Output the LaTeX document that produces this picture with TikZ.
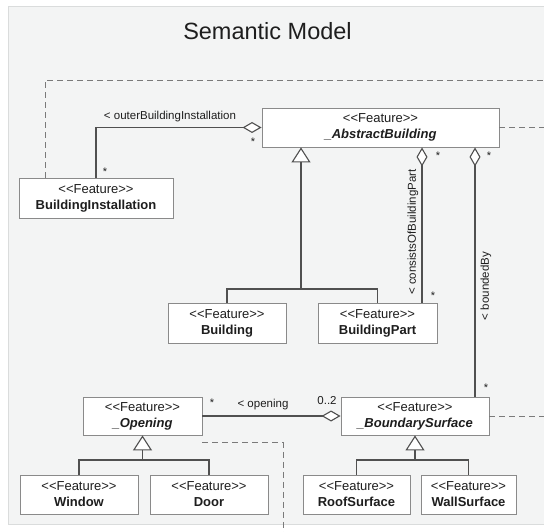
\documentclass[tikz,border=0pt]{standalone}
\usepackage{fontspec}
\setmainfont{Liberation Sans}
\usetikzlibrary{arrows.meta}
\definecolor{panelbg}{HTML}{F3F4F4}
\definecolor{panelln}{HTML}{DADCDC}
\definecolor{boxln}{HTML}{8A8A8A}
\definecolor{lineclr}{HTML}{505050}
\definecolor{dashclr}{HTML}{7A7A7A}
\definecolor{txt}{HTML}{1E1E1E}
\newcommand{\stereo}{<{}<Feature>{}>}
\begin{document}
\begin{tikzpicture}[x=1pt,y=-1pt,
  cls/.style={draw=boxln,line width=0.9pt,fill=white,inner sep=0pt,align=center,
    text=txt,font=\fontsize{13}{16}\selectfont},
  conn/.style={draw=lineclr,line width=1.1pt},
  agg/.style={conn,{Diamond[fill=white,length=19pt,width=11pt]}-},
  gen/.style={conn,{Triangle[fill=white,length=15pt,width=19pt]}-},
  dsh/.style={draw=dashclr,line width=0.9pt,dash pattern=on 6pt off 4pt},
  lbl/.style={text=txt,font=\fontsize{11.5}{13}\selectfont,inner sep=0pt},
  mult/.style={text=txt,font=\fontsize{11}{12}\selectfont,inner sep=0pt}]
\useasboundingbox (0,0) rectangle (544,532);
\fill[white] (0,0) rectangle (544,532);
\draw[panelln,fill=panelbg,line width=1pt] (560,7) -- (8,7) -- (8,524) -- (560,524);
\node[text=txt,font=\fontsize{23.5}{26}\selectfont] (title) at (267.5,31) {Semantic Model};

% classes
\node[cls,minimum width=237pt,minimum height=39pt] (AB) at (380.5,127.5) {\stereo\\\textbf{\textit{\_AbstractBuilding}}};
\node[cls,minimum width=154pt,minimum height=40pt] (BI) at (96,198) {\stereo\\\textbf{BuildingInstallation}};
\node[cls,minimum width=118pt,minimum height=40pt] (Bld) at (227,323) {\stereo\\\textbf{Building}};
\node[cls,minimum width=119pt,minimum height=40pt] (BP) at (377.5,323) {\stereo\\\textbf{BuildingPart}};
\node[cls,minimum width=119pt,minimum height=38pt] (Op) at (142.5,416) {\stereo\\\textbf{\textit{\_Opening}}};
\node[cls,minimum width=148pt,minimum height=38pt] (BS) at (415,416) {\stereo\\\textbf{\textit{\_BoundarySurface}}};
\node[cls,minimum width=118pt,minimum height=39pt] (Win) at (79,494.5) {\stereo\\\textbf{Window}};
\node[cls,minimum width=118pt,minimum height=39pt] (Door) at (209,494.5) {\stereo\\\textbf{Door}};
\node[cls,minimum width=107pt,minimum height=39pt] (Roof) at (356.5,494.5) {\stereo\\\textbf{RoofSurface}};
\node[cls,minimum width=95pt,minimum height=39pt] (Wall) at (468.5,494.5) {\stereo\\\textbf{WallSurface}};

% helper coordinates
\coordinate (g1) at (301,289);
\coordinate (cx) at (422,0);
\coordinate (bx) at (475,0);
\coordinate (g2) at (0,460);
\coordinate (dtop) at (45,80);
\coordinate (rEdge) at (544,0);
\coordinate (dcorner) at (283,0);
\coordinate (bEdge) at (0,532);

% dashed context lines
\draw[dsh] (BI.north -| dtop) -- (dtop) -- (dtop -| rEdge);
\draw[dsh] (AB.east) -- (AB.east -| rEdge);
\draw[dsh] (BS.east) -- (BS.east -| rEdge);
\draw[dsh] ([yshift=-7pt]Op.south east) -- ([yshift=-7pt]Op.south east -| dcorner) -- (dcorner |- bEdge);

% outerBuildingInstallation
\draw[agg] (AB.west) -| (BI.north);
\node[lbl] (l1) at (170,117) {< outerBuildingInstallation};
\node[mult] (m1) at (253,142) {*};
\node[mult] (m2) at (105,172) {*};

% generalization AbstractBuilding
\draw[gen] (AB.south -| g1) -- (g1);
\draw[conn] (Bld.north) -- (Bld.north |- g1) -- (BP.north |- g1) -- (BP.north);

% consistsOfBuildingPart
\draw[agg] (AB.south -| cx) -- (BP.north -| cx);
\node[lbl,rotate=90] (l2) at (413,232) {< consistsOfBuildingPart};
\node[mult] (m3) at (438,156) {*};
\node[mult] (m4) at (433,296) {*};

% boundedBy
\draw[agg] (AB.south -| bx) -- (BS.north -| bx);
\node[lbl,rotate=90] (l3) at (486,286) {< boundedBy};
\node[mult] (m5) at (489,156) {*};
\node[mult] (m6) at (486,388) {*};

% opening
\draw[agg] (BS.west) -- (Op.east);
\node[lbl] (l4) at (263,405) {< opening};
\node[mult] (m7) at (212,403) {*};
\node[lbl] (m8) at (327,401) {0..2};

% generalization Opening
\draw[gen] (Op.south) -- (Op.south |- g2);
\draw[conn] (Win.north) -- (Win.north |- g2) -- (Door.north |- g2) -- (Door.north);

% generalization BoundarySurface
\draw[gen] (BS.south) -- (BS.south |- g2);
\draw[conn] (Roof.north) -- (Roof.north |- g2) -- (Wall.north |- g2) -- (Wall.north);
\end{tikzpicture}
\end{document}
